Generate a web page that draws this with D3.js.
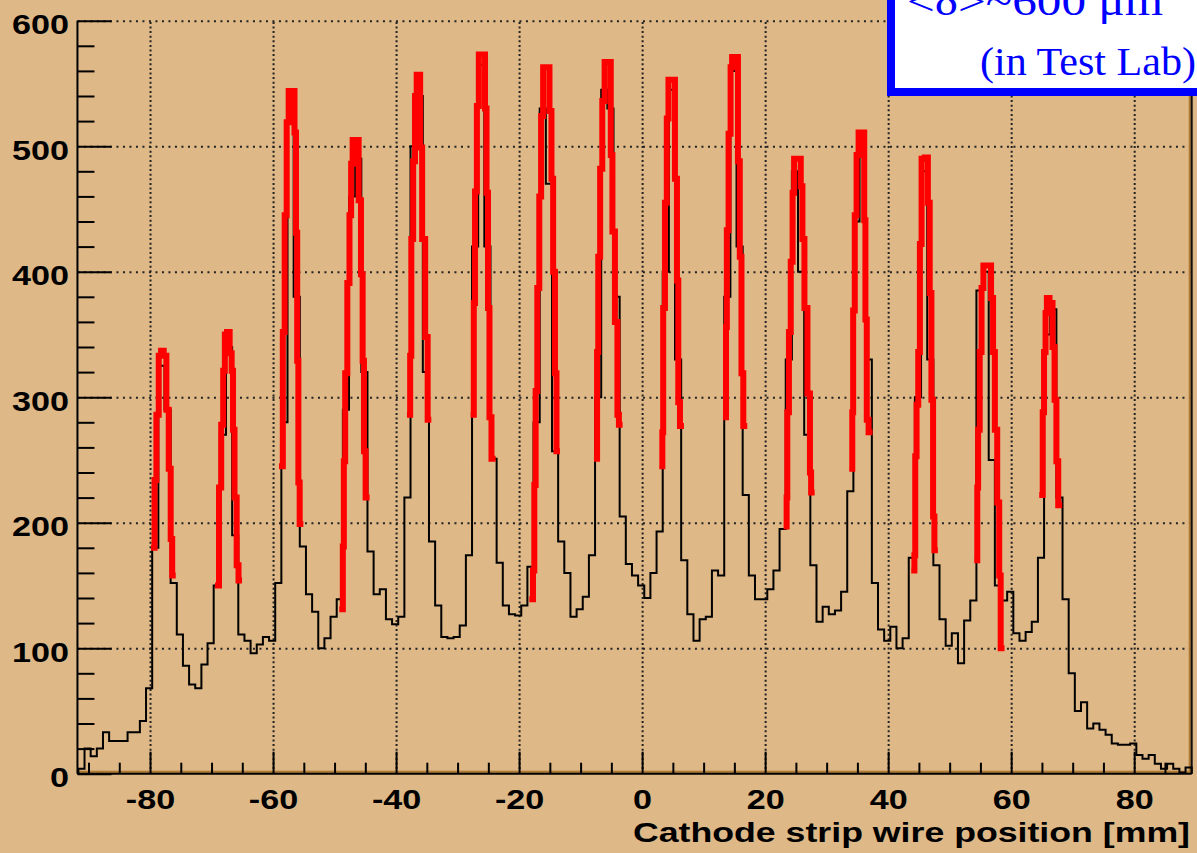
<!DOCTYPE html>
<html><head><meta charset="utf-8">
<script src="https://cdn.jsdelivr.net/npm/d3@7"></script>
<style>html,body{margin:0;padding:0;background:#deb887;overflow:hidden}svg{display:block}</style>
</head><body>
<svg id="chart" width="1197" height="853"></svg>
<script>
// ---------------- data ----------------
const binLow = -91.65;      // low edge of first bin [mm]
const binWidth = 1;         // bin width [mm]
const counts = [
  4, 20, 14, 20, 33, 26, 26, 26, 33, 33, 42, 68,
  180, 325, 290, 152, 111, 86, 71, 68, 87, 104,
  150, 270, 340, 190, 111, 106, 96, 103, 109, 106, 152,
  280, 530, 380, 181, 143, 129, 100, 108, 125, 139,
  290, 460, 490, 320, 177, 143, 147, 123, 119, 125,
  220, 500, 540, 320, 185, 134, 109, 108, 109, 118, 174,
  420, 565, 420, 251, 168, 134, 127, 126, 134, 165,
  280, 530, 470, 257, 185, 160, 125, 131, 141, 174,
  300, 545, 530, 380, 205, 167, 158, 150, 140, 160, 193,
  400, 545, 330, 170, 127, 106, 123, 125, 162, 158,
  380, 560, 420, 222, 158, 139, 139, 147, 162, 195,
  330, 480, 400, 270, 166, 121, 133, 127, 130, 145, 225,
  440, 500, 330, 152, 115, 106, 117, 100, 108, 172,
  300, 480, 330, 166, 123, 102, 112, 88, 122, 138,
  385, 400, 250, 150, 138, 145, 112, 106, 113, 121, 172,
  350, 370, 220, 139, 80, 50, 57, 36, 40, 35, 31, 24,
  23, 23, 24, 15, 12, 15, 8, 4, 8, 4, 1, 5
];
// Gaussian fits (red): [position mm, entries]
const fitPeak1  = [[-79.35,180],[-79.18,234],[-78.75,286],[-78.42,333],[-77.99,337],[-77.56,333],[-77.12,290],[-76.8,243],[-76.48,187],[-76.31,158]];
const fitPeak2  = [[-68.95,150],[-68.62,228],[-68.24,278],[-67.97,321],[-67.7,350],[-67.27,352],[-66.84,335],[-66.62,321],[-66.4,274],[-66.13,220],[-65.7,166],[-65.53,154]];
const fitPeak3  = [[-58.55,245],[-58.27,352],[-57.95,445],[-57.62,519],[-57.3,544],[-56.65,544],[-56.38,511],[-56.16,431],[-55.99,329],[-55.78,232],[-55.56,199]];
const fitPeak4  = [[-48.74,131],[-48.57,181],[-48.41,249],[-48.14,319],[-47.71,391],[-47.44,445],[-47.17,486],[-46.95,505],[-46.3,505],[-45.87,457],[-45.54,398],[-45.33,329],[-45.11,257],[-44.79,220]];
const fitPeak5  = [[-37.74,286],[-37.68,333],[-37.36,426],[-37.09,488],[-36.76,540],[-36.54,557],[-36.22,557],[-35.95,499],[-35.57,426],[-34.97,348],[-34.76,282]];
const fitPeak6  = [[-27.4,286],[-27.33,375],[-27.0,464],[-26.73,532],[-26.36,573],[-25.65,573],[-25.43,530],[-25.16,463],[-24.95,371],[-24.68,284],[-24.3,251]];
const fitPeak7  = [[-17.85,139],[-17.63,162],[-17.42,230],[-17.2,305],[-16.88,387],[-16.55,460],[-16.28,524],[-15.9,563],[-15.25,563],[-14.87,528],[-14.6,474],[-14.33,400],[-14.0,319],[-13.84,257]];
const fitPeak8  = [[-7.34,251],[-7.3,336],[-6.96,412],[-6.69,482],[-6.26,536],[-5.93,567],[-5.23,567],[-4.96,493],[-4.69,432],[-4.15,360],[-3.88,286],[-3.66,278]];
const fitPeak9  = [[3.28,245],[3.3,272],[3.55,371],[3.88,455],[4.15,522],[4.42,553],[5.12,553],[5.56,474],[5.77,393],[5.99,296],[6.32,277]];
const fitPeak10 = [[13.63,284],[13.65,356],[13.9,433],[14.22,510],[14.55,563],[14.71,571],[15.42,571],[15.74,488],[16.02,412],[16.29,319],[16.61,277]];
const fitPeak11 = [[23.49,197],[23.5,220],[23.71,288],[24.03,352],[24.3,408],[24.63,463],[24.79,490],[25.66,490],[25.93,468],[26.2,426],[26.58,371],[27.18,303],[27.39,240],[27.56,224]];
const fitPeak12 = [[34.16,243],[34.18,288],[34.44,369],[34.71,445],[35.03,493],[35.36,511],[36.0,511],[36.22,441],[36.39,362],[36.66,282],[36.98,272]];
const fitPeak13 = [[44.24,162],[44.3,174],[44.51,253],[44.73,294],[45.05,336],[45.27,422],[45.6,490],[46.3,491],[46.62,455],[46.9,383],[47.17,298],[47.44,205],[47.6,178]];
const fitPeak14 = [[54.48,170],[54.5,228],[54.75,274],[55.02,336],[55.35,387],[55.62,405],[56.54,405],[56.92,379],[57.19,336],[57.51,274],[57.95,216],[58.16,158],[58.43,100]];
const fitPeak15 = [[65.05,222],[65.21,288],[65.48,336],[65.7,367],[65.91,379],[66.56,375],[66.89,340],[67.22,298],[67.49,249],[67.81,214]];
const fitCurves = [fitPeak1, fitPeak2, fitPeak3, fitPeak4, fitPeak5, fitPeak6, fitPeak7, fitPeak8,
                   fitPeak9, fitPeak10, fitPeak11, fitPeak12, fitPeak13, fitPeak14, fitPeak15];

const xDomain = [-91.8, 89.35];
const yDomain = [0, 600];
const xMajorTicks = [-80, -60, -40, -20, 0, 20, 40, 60, 80];
const xMinorTicks = [-90, -85, -75, -70, -65, -55, -50, -45, -35, -30, -25, -15, -10, -5, 5, 10, 15, 25, 30, 35, 45, 50, 55, 65, 70, 75, 85];
const yMajorTicks = [0, 100, 200, 300, 400, 500, 600];
const yMinorTicks = [20, 40, 60, 80, 120, 140, 160, 180, 220, 240, 260, 280, 320, 340, 360, 380, 420, 440, 460, 480, 520, 540, 560, 580];
const xTitle = "Cathode strip wire position [mm]";
const legendLine1 = "<δ>~600 μm";
const legendLine2 = "(in Test Lab)";

// ---------------- layout ----------------
const L = 77.45, R = 1191.7, T = 20.7, B = 773.7;
const svg = d3.select("#chart");
const x = d3.scaleLinear().domain(xDomain).range([L, R]);
const y = d3.scaleLinear().domain(yDomain).range([B, T]);
const labelFont = "'Liberation Sans', Arial, Helvetica, sans-serif";
const stretch = 1.22;

svg.append("rect").attr("width", 1197).attr("height", 853).attr("fill", "#deb887");

// grid
const gridH = svg.append("g").attr("transform", `translate(${L},0)`)
  .call(d3.axisLeft(y).tickValues(yMajorTicks.filter(v => v > 0)).tickSize(-(R - L)).tickFormat(""));
gridH.select(".domain").remove();
gridH.selectAll("line").attr("stroke", "#222").attr("stroke-width", 2).attr("stroke-dasharray", "2,4.5");

const gridV = svg.append("g").attr("transform", `translate(0,${B})`)
  .call(d3.axisBottom(x).tickValues(xMajorTicks).tickSize(-(B - T)).tickFormat(""));
gridV.select(".domain").remove();
gridV.selectAll("line").attr("stroke", "#222").attr("stroke-width", 2).attr("stroke-dasharray", "2,2.6");

// frame shading (bottom / right)
svg.append("rect").attr("x", L).attr("y", B - 3).attr("width", R - L).attr("height", 2.2).attr("fill", "#b07a34");
svg.append("rect").attr("x", R - 3).attr("y", T).attr("width", 2.2).attr("height", B - T).attr("fill", "#b07a34");
svg.append("line").attr("x1", R).attr("x2", R).attr("y1", T).attr("y2", B).attr("stroke", "#111").attr("stroke-width", 2);

// histogram
const edges = counts.map((c, i) => binLow + i * binWidth);
const lastEdge = binLow + counts.length * binWidth;
const histPts = [[binLow, 0]].concat(counts.map((c, i) => [edges[i], c])).concat([[lastEdge, 0]]);
const stepLine = d3.line().x(d => x(d[0])).y(d => y(d[1])).curve(d3.curveStepAfter);
svg.append("path").attr("d", stepLine(histPts)).attr("fill", "none")
  .attr("stroke", "#000").attr("stroke-width", 2).attr("stroke-linejoin", "miter");

// fits (thick staircase-like red lines)
const fitLine = d3.line().x(d => x(d[0])).y(d => y(d[1])).curve(d3.curveStep);
svg.append("g").selectAll("path").data(fitCurves).join("path")
  .attr("d", fitLine).attr("fill", "none").attr("stroke", "#ff0000")
  .attr("stroke-width", 6).attr("stroke-linejoin", "miter").attr("stroke-linecap", "square");

// x axis
const xAxisG = svg.append("g").attr("transform", `translate(0,${B})`);
const xMinorG = xAxisG.append("g").call(d3.axisBottom(x).tickValues(xMinorTicks).tickSize(-11).tickFormat(""));
xMinorG.select(".domain").remove();
const xMajorG = xAxisG.append("g").call(d3.axisBottom(x).tickValues(xMajorTicks).tickSize(-22).tickFormat(d => String(d)));
xMajorG.select(".domain").attr("stroke", "#000").attr("stroke-width", 2).attr("d", `M${L},0H${R}`);
xAxisG.selectAll("line").attr("stroke", "#000").attr("stroke-width", 2);
xMajorG.selectAll("text").attr("y", 35.8).attr("dy", 0)
  .attr("font-family", labelFont).attr("font-weight", "bold").attr("font-size", 28).attr("fill", "#000")
  .attr("transform", `scale(${stretch},1)`);

// y axis
const yAxisG = svg.append("g").attr("transform", `translate(${L},0)`);
const yMinorG = yAxisG.append("g").call(d3.axisLeft(y).tickValues(yMinorTicks).tickSize(-17).tickFormat(""));
yMinorG.select(".domain").remove();
const yMajorG = yAxisG.append("g").call(d3.axisLeft(y).tickValues(yMajorTicks).tickSize(-34).tickPadding(6.9).tickFormat(d => String(d)));
yMajorG.select(".domain").attr("stroke", "#000").attr("stroke-width", 2).attr("d", `M0,${B}V${T}`);
yAxisG.selectAll("line").attr("stroke", "#000").attr("stroke-width", 2);
yMajorG.selectAll("text").attr("dy", 0).attr("y", 13)
  .attr("font-family", labelFont).attr("font-weight", "bold").attr("font-size", 28).attr("fill", "#000")
  .attr("transform", `scale(${stretch},1)`);

// axis title
svg.append("text").attr("x", 1190).attr("y", 842).attr("text-anchor", "end")
  .attr("font-family", labelFont).attr("font-weight", "bold").attr("font-size", 28)
  .attr("textLength", 557).attr("lengthAdjust", "spacingAndGlyphs")
  .text(xTitle);

// legend box
svg.append("rect").attr("x", 891).attr("y", -30).attr("width", 400).attr("height", 122)
  .attr("fill", "#fff").attr("stroke", "#0000ff").attr("stroke-width", 8);
svg.append("text").attr("x", 907).attr("y", 15)
  .attr("font-family", "'Liberation Serif', 'Times New Roman', serif").attr("font-size", 41).attr("fill", "#0000ff")
  .attr("textLength", 256).attr("lengthAdjust", "spacingAndGlyphs").text(legendLine1);
svg.append("text").attr("x", 980).attr("y", 75)
  .attr("font-family", "'Liberation Serif', 'Times New Roman', serif").attr("font-size", 41).attr("fill", "#0000ff")
  .attr("textLength", 216).attr("lengthAdjust", "spacingAndGlyphs").text(legendLine2);
</script>
</body></html>
